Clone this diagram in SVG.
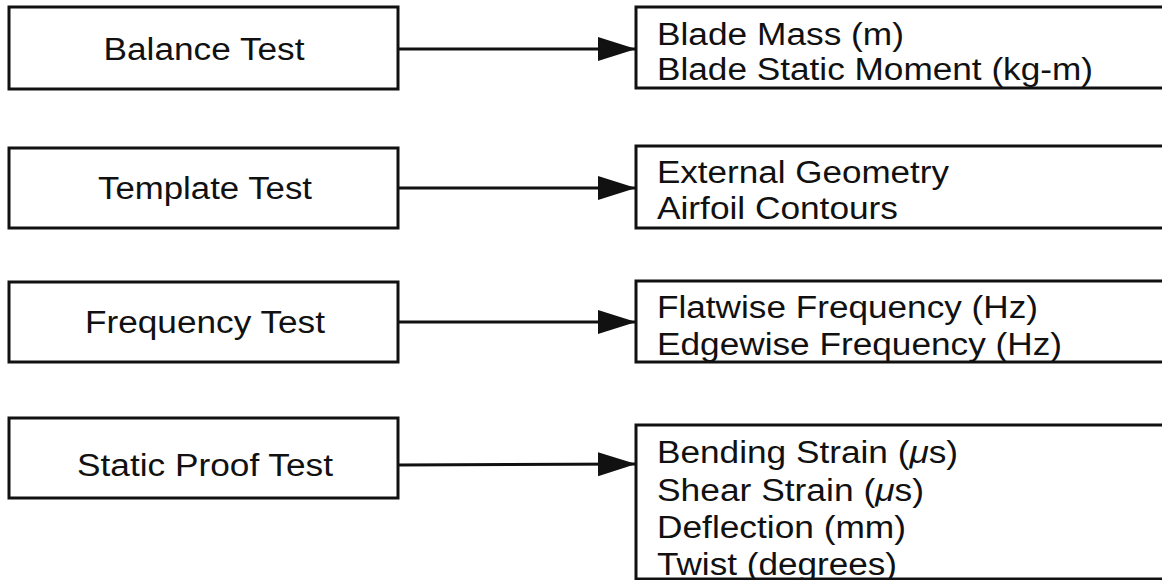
<svg xmlns="http://www.w3.org/2000/svg" width="1162" height="580" viewBox="0 0 1162 580">
<style>
.box{fill:#fff;stroke:#111;stroke-width:3}
.t{font-family:"Liberation Sans",Arial,Helvetica,sans-serif;font-size:31px;fill:#111}
.c{text-anchor:middle}
.ln{stroke:#111;stroke-width:3;fill:none}
</style>
<defs>
<marker id="ah" markerUnits="userSpaceOnUse" markerWidth="40" markerHeight="26" refX="38" refY="12" orient="auto">
<path d="M0,0 L38,12 L0,24 Z" fill="#111"/>
</marker>
</defs>
<rect width="1162" height="580" fill="#fff"/>
<g id="connectors">
<line class="ln" x1="398" y1="49" x2="636" y2="49" marker-end="url(#ah)"/>
<line class="ln" x1="398" y1="188" x2="636" y2="188" marker-end="url(#ah)"/>
<line class="ln" x1="398" y1="322" x2="636" y2="322" marker-end="url(#ah)"/>
<line class="ln" x1="398" y1="465" x2="636" y2="464" marker-end="url(#ah)"/>
</g>
<g id="balance">
<rect class="box" x="9" y="7" width="389" height="82"/>
<text class="t c" x="204" y="60" textLength="201" lengthAdjust="spacingAndGlyphs">Balance Test</text>
</g>
<g id="template">
<rect class="box" x="9" y="148" width="389" height="80"/>
<text class="t c" x="205" y="199" textLength="214" lengthAdjust="spacingAndGlyphs">Template Test</text>
</g>
<g id="frequency">
<rect class="box" x="9" y="282" width="389" height="80"/>
<text class="t c" x="205" y="333" textLength="240" lengthAdjust="spacingAndGlyphs">Frequency Test</text>
</g>
<g id="static">
<rect class="box" x="9" y="418" width="389" height="80"/>
<text class="t c" x="205" y="476" textLength="256" lengthAdjust="spacingAndGlyphs">Static Proof Test</text>
</g>
<g id="balance-out">
<rect class="box" x="636" y="7" width="530" height="81"/>
<text class="t" x="657" y="45" textLength="247" lengthAdjust="spacingAndGlyphs">Blade Mass (m)</text>
<text class="t" x="657" y="80" textLength="436" lengthAdjust="spacingAndGlyphs">Blade Static Moment (kg-m)</text>
</g>
<g id="template-out">
<rect class="box" x="636" y="146" width="530" height="82"/>
<text class="t" x="657" y="183" textLength="292" lengthAdjust="spacingAndGlyphs">External Geometry</text>
<text class="t" x="657" y="219" textLength="241" lengthAdjust="spacingAndGlyphs">Airfoil Contours</text>
</g>
<g id="frequency-out">
<rect class="box" x="636" y="281" width="530" height="81"/>
<text class="t" x="657" y="318" textLength="381" lengthAdjust="spacingAndGlyphs">Flatwise Frequency (Hz)</text>
<text class="t" x="657" y="355" textLength="405" lengthAdjust="spacingAndGlyphs">Edgewise Frequency (Hz)</text>
</g>
<g id="static-out">
<rect class="box" x="636" y="425" width="530" height="154"/>
<text class="t" x="657" y="463" textLength="301" lengthAdjust="spacingAndGlyphs">Bending Strain (<tspan font-style="italic">μ</tspan>s)</text>
<text class="t" x="657" y="501" textLength="267" lengthAdjust="spacingAndGlyphs">Shear Strain (<tspan font-style="italic">μ</tspan>s)</text>
<text class="t" x="657" y="538" textLength="249" lengthAdjust="spacingAndGlyphs">Deflection (mm)</text>
<text class="t" x="657" y="575" textLength="240" lengthAdjust="spacingAndGlyphs">Twist (degrees)</text>
</g>
</svg>
